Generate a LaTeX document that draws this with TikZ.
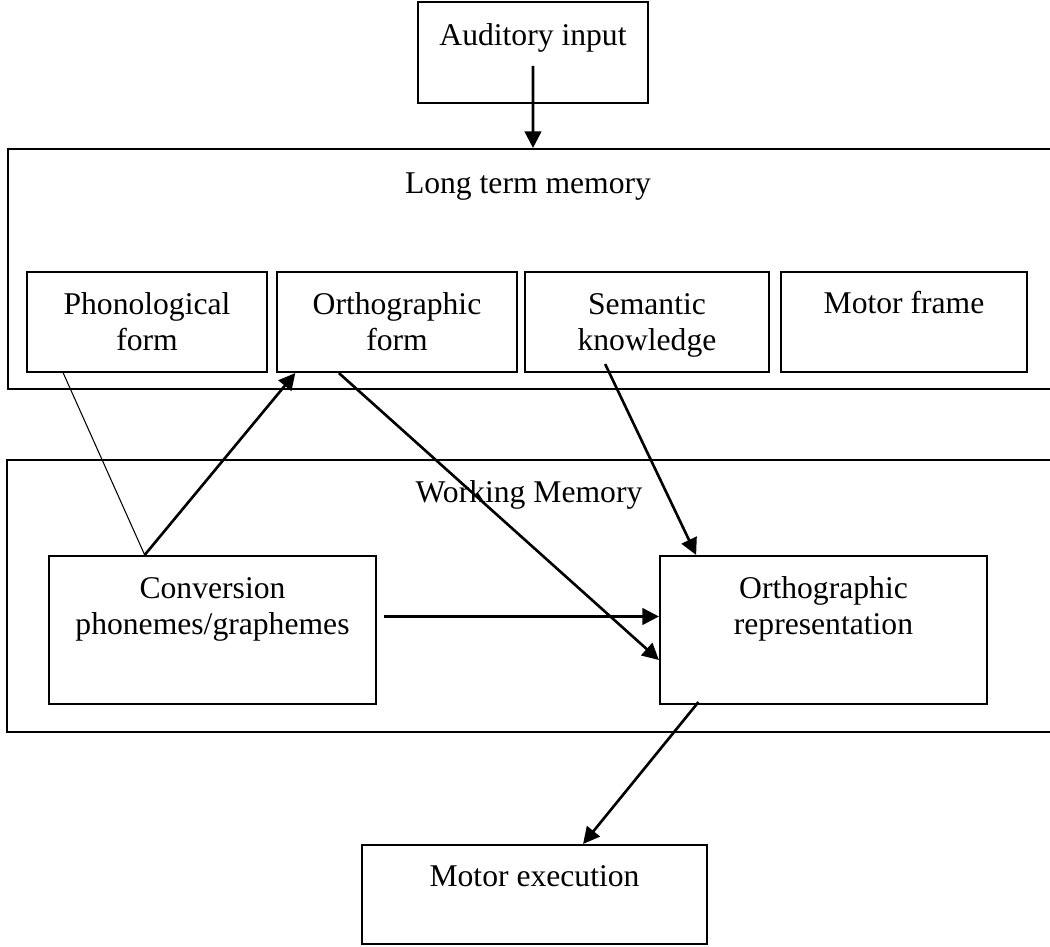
\documentclass[tikz,border=0pt]{standalone}
\usepackage{fontspec}
\setmainfont{Liberation Serif}
\usetikzlibrary{calc,arrows.meta}

\tikzset{
  box/.style={draw,line width=1.2pt,inner sep=0pt},
  txt/.style={align=center,font=\fontsize{18}{20.5}\selectfont},
  arr/.style={line width=1.5pt,-{Triangle[length=3.3mm,width=3.3mm]}}
}

\begin{document}
\begin{tikzpicture}
  \useasboundingbox (0,0) rectangle (21,-18.94);
 % \draw[thin,gray!40] (0,0) grid (21,-19);
  % outer memory frames
  \node[box,minimum width=21.04cm,minimum height=4.8cm] (ltm) at (10.68,-5.38) {};
  \node[txt] (ltmt) at (10.56,-3.74) {Long term memory};
  \node[box,minimum width=21.06cm,minimum height=5.44cm] (wm) at (10.67,-11.92) {};
  \node[txt] (wmt) at (10.58,-9.9) {Working Memory};

  % boxes
  \node[box,minimum width=4.6cm,minimum height=2.02cm] (aud) at (10.66,-1.05) {};
  \node[txt] at (10.66,-0.76) {Auditory input};
  \node[box,minimum width=4.8cm,minimum height=2cm] (phon) at (2.94,-6.44) {};
  \node[txt] at (phon) {Phonological\\form};
  \node[box,minimum width=4.8cm,minimum height=2cm] (orth) at (7.94,-6.44) {};
  \node[txt] at (orth) {Orthographic\\form};
  \node[box,minimum width=4.88cm,minimum height=2cm] (sem) at (12.94,-6.44) {};
  \node[txt] at (12.94,-6.51) {Semantic\\knowledge};
  \node[box,minimum width=4.92cm,minimum height=2cm] (mfr) at (18.08,-6.44) {};
  \node[txt] at (18.08,-6.06) {Motor frame};
  \node[box,minimum width=6.54cm,minimum height=2.96cm] (conv) at (4.25,-12.6) {};
  \node[txt] at (4.25,-12.18) {Conversion\\phonemes/graphemes};
  \node[box,minimum width=6.54cm,minimum height=2.96cm] (rep) at (16.47,-12.6) {};
  \node[txt] at (16.47,-12.18) {Orthographic\\representation};
  \node[box,minimum width=6.9cm,minimum height=1.98cm] (mex) at (10.69,-17.89) {};
  \node[txt] at (10.69,-17.52) {Motor execution};

  % connectors
  \coordinate (convtop) at ($(conv.north west)!0.294!(conv.north east)$);
  \draw[arr] ($(aud.north)!0.63!(aud.south)$) -- (ltm.north -| aud.south);
  \draw[line width=0.6pt] ($(phon.south west)!0.154!(phon.south east)$) -- (convtop);
  \draw[arr] (convtop) -- ($(orth.south west)!0.08!(orth.south east)$);
  \draw[arr] ($(orth.south west)!0.26!(orth.south east)$) -- ($(rep.north west)!0.70!(rep.south west)$);
  \draw[arr] ($(conv.north east)!0.41!(conv.south east)+(0.14,0)$) -- ($(rep.north west)!0.41!(rep.south west)$);
  \draw[arr] ($(sem.south west)!0.33!(sem.south east)+(0,0.18)$) -- ($(rep.north west)!0.113!(rep.north east)$);
  \draw[arr] ($(rep.south west)!0.12!(rep.south east)+(0,0.06)$) -- ($(mex.north west)!0.64!(mex.north east)$);
\end{tikzpicture}
\end{document}
